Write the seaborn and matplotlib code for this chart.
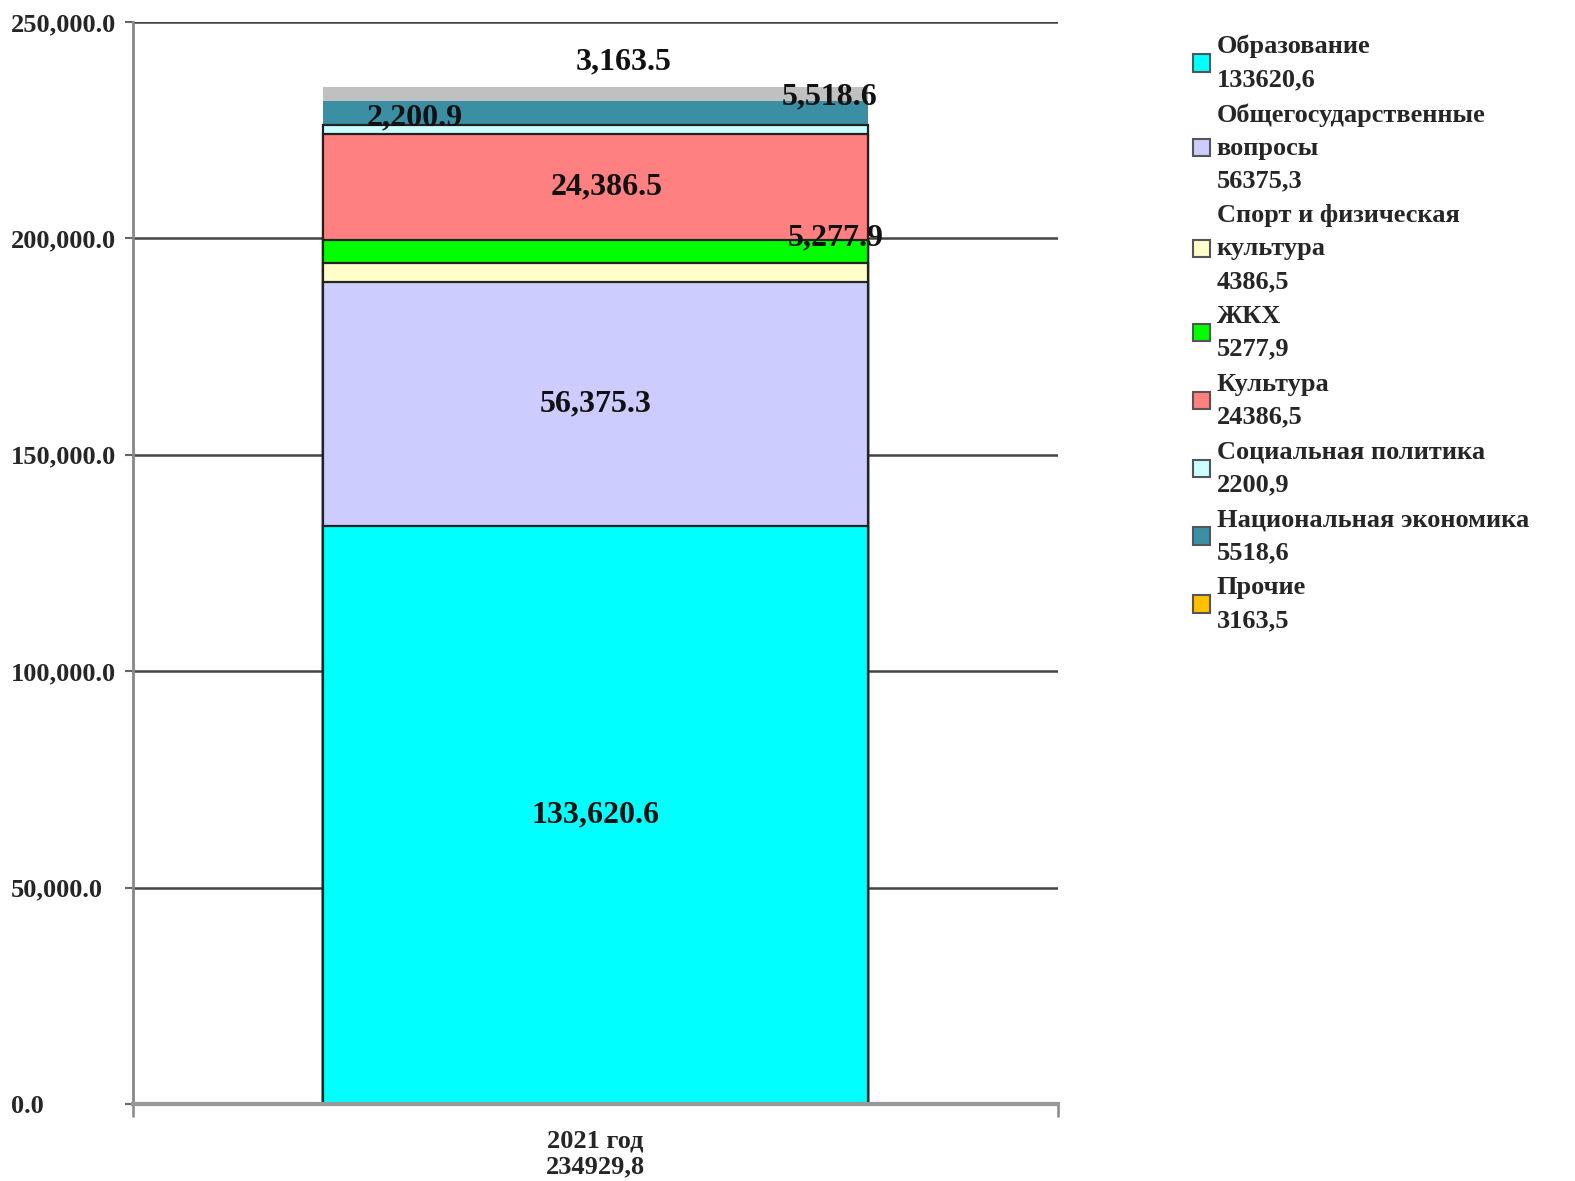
import numpy as np
import pandas as pd
import matplotlib
matplotlib.use("Agg")
import matplotlib.pyplot as plt
from matplotlib.patches import Patch
from matplotlib.ticker import FuncFormatter
import seaborn as sns

# data
category = "2021 год\n234929,8"
sectors = ["Образование", "Общегосударственные\nвопросы", "Спорт и физическая\nкультура",
           "ЖКХ", "Культура", "Социальная политика", "Национальная экономика", "Прочие"]
values = [133620.6, 56375.3, 4386.5, 5277.9, 24386.5, 2200.9, 5518.6, 3163.5]
legend_values = ["133620,6", "56375,3", "4386,5", "5277,9", "24386,5", "2200,9", "5518,6", "3163,5"]
show_label = [True, True, False, True, True, True, True, True]

# styles
bar_colors = ["#00FFFF", "#CCCCFF", "#FFFFCC", "#00FF00", "#FF8080", "#CCFFFF", "#3A8FA5", "#C0C0C0"]
legend_colors = bar_colors[:-1] + ["#FFC000"]
edge_colors = ["#222222"] * 6 + ["none", "none"]
# label offsets (x in bar units, y in value units) for small segments
label_dx = [0, 0, 0, 0.26, 0.012, -0.195, 0.2535, 0.03]
label_dy = [0, 0, 0, 3100, 0, 2700, 3660, 7400]

sns.set_style("white")
plt.rcParams['font.family'] = ['Liberation Serif', 'DejaVu Serif']
plt.rcParams['font.weight'] = 'bold'

fig = plt.figure(figsize=(15.75, 11.81), dpi=100)
ax = fig.add_axes([133 / 1575, 1 - 1104 / 1181, 925 / 1575, 1082 / 1181])

tops = np.cumsum(values)
bottoms = tops - np.array(values)

# draw cumulative bars from the top segment down so each covers the previous
for i in reversed(range(len(values))):
    df = pd.DataFrame({"cat": [category], "val": [tops[i]]})
    sns.barplot(data=df, x="cat", y="val", color=bar_colors[i], saturation=1,
                width=0.59, edgecolor=edge_colors[i], linewidth=1.6, ax=ax, zorder=2)

for i, v in enumerate(values):
    if not show_label[i]:
        continue
    ax.text(label_dx[i], (bottoms[i] + tops[i]) / 2 + label_dy[i], "{:,.1f}".format(v),
            ha="center", va="center", fontsize=23, fontweight="bold", color="#111111", zorder=5)

ax.set_xlim(-0.5, 0.5)
ax.set_ylim(0, 250000)
ax.set_yticks(np.arange(0, 250001, 50000))
ax.yaxis.set_major_formatter(FuncFormatter(lambda y, p: "{:,.1f}".format(y)))
ax.grid(axis="y", color="#444444", linewidth=1.8)
ax.set_axisbelow(True)
ax.set_xlabel("")
ax.set_ylabel("")

for s in ["top", "right"]:
    ax.spines[s].set_visible(False)
ax.spines["left"].set_color("#888888")
ax.spines["left"].set_linewidth(2)
ax.spines["bottom"].set_color("#999999")
ax.spines["bottom"].set_linewidth(3)

ax.tick_params(axis="y", left=True, length=6, width=1.5, color="#666666", pad=82, labelsize=19)
for lab in ax.get_yticklabels():
    lab.set_horizontalalignment("left")
    lab.set_fontweight("bold")
ax.set_xticks([-0.5, 0.5], minor=True)
ax.tick_params(axis="x", which="minor", bottom=True, length=9, width=1.8, color="#888888")
ax.tick_params(axis="x", which="major", bottom=False, length=0, pad=18, labelsize=19)
for lab in ax.get_xticklabels():
    lab.set_fontweight("bold")

handles = [Patch(facecolor=c, edgecolor="#555555", linewidth=1.5) for c in legend_colors]
labels = [s + "\n" + v for s, v in zip(sectors, legend_values)]
leg = fig.legend(handles, labels, loc="upper left", bbox_to_anchor=(1193 / 1575, 1 - 35 / 1181),
                 frameon=False, borderaxespad=0, borderpad=0, fontsize=19,
                 handlelength=0.65, handleheight=0.65, handletextpad=0.25, labelspacing=0.46)
for t in leg.get_texts():
    t.set_fontweight("bold")
    t.set_linespacing(1.54)

fig.savefig("out.png", dpi=100)
